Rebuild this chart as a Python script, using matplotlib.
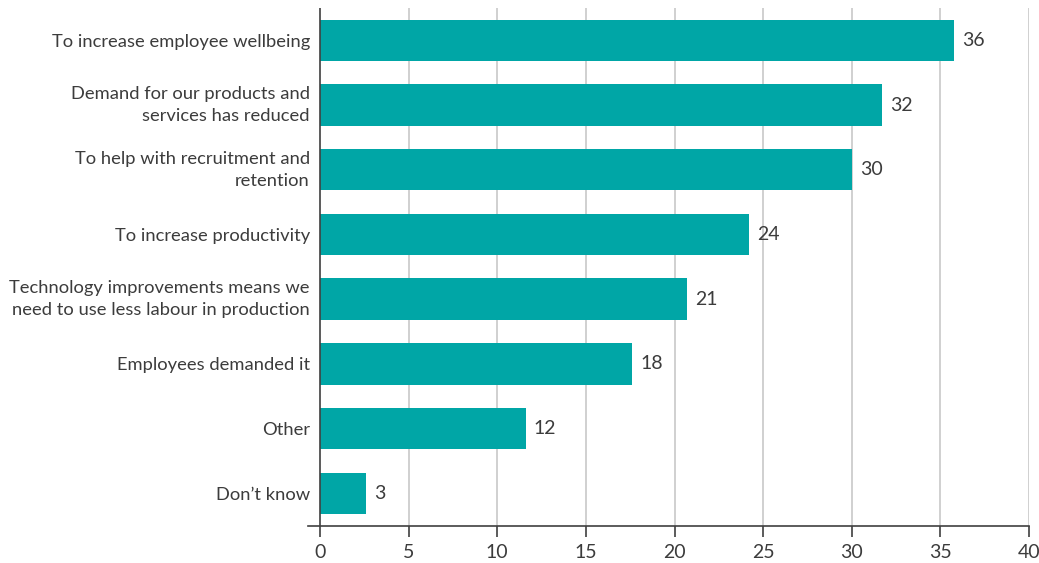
import matplotlib
matplotlib.use("Agg")
import matplotlib.pyplot as plt

categories = [
    "To increase employee wellbeing",
    "Demand for our products and\nservices has reduced",
    "To help with recruitment and\nretention",
    "To increase productivity",
    "Technology improvements means we\nneed to use less labour in production",
    "Employees demanded it",
    "Other",
    "Don\u2019t know",
]
values = [35.75, 31.7, 30.0, 24.2, 20.7, 17.6, 11.6, 2.6]
xticks = [0, 5, 10, 15, 20, 25, 30, 35, 40]

bar_color = "#00A6A6"
text_color = "#3C3C3C"
grid_color = "#C8C8C8"

plt.rcParams["font.family"] = ["Lato", "DejaVu Sans"]

fig = plt.figure(figsize=(10.39, 5.63), dpi=100)
ax = fig.add_axes([320 / 1039 - 0.7 * 17.7 / 1039, 1 - 525.7 / 563,
                   (1029 - 320 + 0.7 * 17.7) / 1039, (525.7 - 8) / 563])

ypos = list(range(len(categories)))
bars = ax.barh(ypos, values, height=0.64, color=bar_color, zorder=3)
ax.bar_label(bars, labels=[f"{v:.0f}" for v in values], padding=6,
             fontsize=14, color=text_color)

ax.set_xlim(-0.7, 40)
ax.set_ylim(len(categories) - 0.5, -0.5)

ax.set_xticks(xticks)
ax.set_xticklabels([str(t) for t in xticks])
ax.set_yticks(ypos)
ax.set_yticklabels(categories, fontsize=13.2, color=text_color,
                   linespacing=1.45)
for lbl in ax.get_yticklabels():
    if "\n" in lbl.get_text():
        lbl.set_verticalalignment("center")
ax.tick_params(axis="y", length=0, pad=-1.7)
ax.tick_params(axis="x", length=8, width=1.2, color="#404040",
               labelsize=14, labelcolor=text_color, pad=5)

for t in xticks[1:]:
    ax.axvline(t, color=grid_color, linewidth=1.2, zorder=1)
ax.axvline(0, color="#404040", linewidth=1.2, zorder=4)

for side in ["top", "right", "left"]:
    ax.spines[side].set_visible(False)
ax.spines["bottom"].set_color("#404040")
ax.spines["bottom"].set_linewidth(1.2)

fig.savefig("out.png", dpi=100)
